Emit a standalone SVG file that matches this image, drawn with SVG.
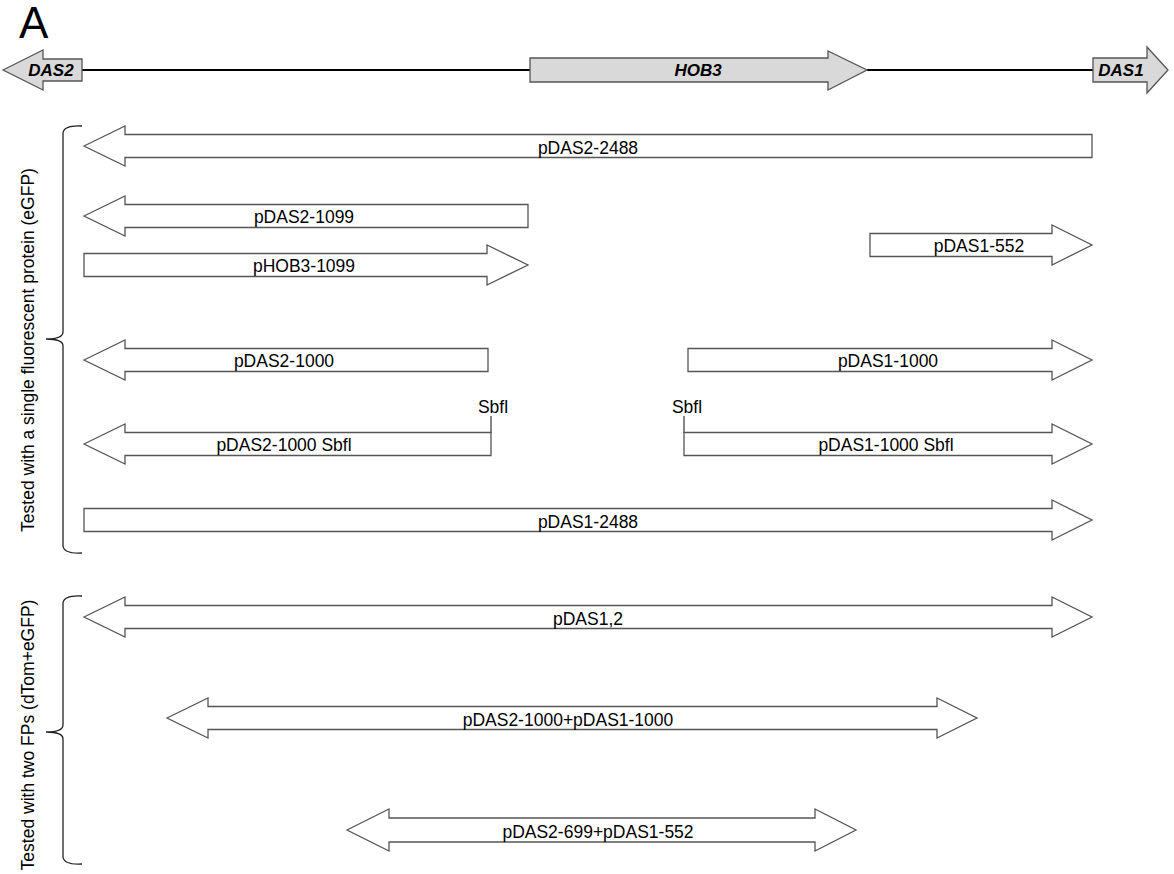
<svg xmlns="http://www.w3.org/2000/svg" width="1174" height="874" viewBox="0 0 1174 874">
<style>
.bg{fill:#fff}
.gene{fill:#d9d9d9;stroke:#555;stroke-width:1.3}
.arr{fill:#fff;stroke:#555;stroke-width:1.3;stroke-linejoin:miter}
.line{stroke:#000;stroke-width:2;fill:none}
.br{fill:none;stroke:#222;stroke-width:1.3}
.gl{font-family:"Liberation Sans",Arial,sans-serif;font-size:17px;font-weight:bold;font-style:italic;fill:#000;text-anchor:middle}
.lbl{font-family:"Liberation Sans",Arial,sans-serif;font-size:17.5px;fill:#000;text-anchor:middle}
.side{font-family:"Liberation Sans",Arial,sans-serif;font-size:17.5px;fill:#000;text-anchor:middle}
.tick{stroke:#444;stroke-width:1.3;fill:none}
</style>
<rect class="bg" x="0" y="0" width="1174" height="874"/>
<text x="19" y="38" font-family="'Liberation Sans',Arial,sans-serif" font-size="44">A</text>

<g id="connectors">
<line class="line" x1="82" y1="70" x2="530" y2="70"/>
<line class="line" x1="867" y1="70" x2="1093" y2="70"/>
<line class="tick" x1="491" y1="416" x2="491" y2="433"/>
<line class="tick" x1="684" y1="416" x2="684" y2="433"/>
</g>

<g id="gene-DAS2">
<polygon class="gene" points="3,70 43,50 43,59 82,59 82,81 43,81 43,90"/>
<text class="gl" x="51" y="76">DAS2</text>
</g>
<g id="gene-HOB3">
<polygon class="gene" points="530,58 828,58 828,51 867,70 828,90 828,82 530,82"/>
<text class="gl" x="698" y="76">HOB3</text>
</g>
<g id="gene-DAS1">
<polygon class="gene" points="1093,58 1147,58 1147,47 1168,70 1147,93 1147,82 1093,82"/>
<text class="gl" x="1121" y="76">DAS1</text>
</g>

<g id="bracket-single">
<path class="br" d="M82,126 Q64,125 63,133 L63,332 Q63,339 46,339 Q63,339 63,346 L63,546 Q64,554 82,553"/>
<text class="side" transform="translate(34,350) rotate(-90)">Tested with a single fluorescent protein (eGFP)</text>
</g>
<g id="bracket-two">
<path class="br" d="M82,596 Q64,595 63,603 L63,725 Q63,732 46,732 Q63,732 63,739 L63,857 Q64,865 82,864"/>
<text class="side" transform="translate(34,735) rotate(-90)">Tested with two FPs (dTom+eGFP)</text>
</g>

<g id="pDAS2-2488">
<polygon class="arr" points="84,146 125,126 125,134.5 1092,134.5 1092,157.5 125,157.5 125,166"/>
<text class="lbl" x="588" y="154">pDAS2-2488</text>
</g>
<g id="pDAS2-1099">
<polygon class="arr" points="84,216 125,196 125,204.5 528,204.5 528,227.5 125,227.5 125,236"/>
<text class="lbl" x="304" y="223">pDAS2-1099</text>
</g>
<g id="pHOB3-1099">
<polygon class="arr" points="84,253.5 487,253.5 487,245 528,265 487,285 487,276.5 84,276.5"/>
<text class="lbl" x="304" y="272">pHOB3-1099</text>
</g>
<g id="pDAS1-552">
<polygon class="arr" points="870,233.5 1052,233.5 1052,225 1092,245 1052,265 1052,256.5 870,256.5"/>
<text class="lbl" x="979" y="252">pDAS1-552</text>
</g>
<g id="pDAS2-1000">
<polygon class="arr" points="84,360 125,340 125,348.5 488,348.5 488,371.5 125,371.5 125,380"/>
<text class="lbl" x="284" y="367">pDAS2-1000</text>
</g>
<g id="pDAS1-1000">
<polygon class="arr" points="688,348.5 1052,348.5 1052,340 1092,360 1052,380 1052,371.5 688,371.5"/>
<text class="lbl" x="888" y="367">pDAS1-1000</text>
</g>
<g id="pDAS2-1000-SbfI">
<polygon class="arr" points="84,444 125,424 125,432.5 491,432.5 491,455.5 125,455.5 125,464"/>
<text class="lbl" x="284" y="451">pDAS2-1000 Sbfl</text>
<text class="lbl" x="493" y="413">Sbfl</text>
</g>
<g id="pDAS1-1000-SbfI">
<polygon class="arr" points="684,432.5 1052,432.5 1052,424 1092,444 1052,464 1052,455.5 684,455.5"/>
<text class="lbl" x="886" y="451">pDAS1-1000 Sbfl</text>
<text class="lbl" x="687" y="413">Sbfl</text>
</g>
<g id="pDAS1-2488">
<polygon class="arr" points="84,508.5 1052,508.5 1052,500 1092,520 1052,540 1052,531.5 84,531.5"/>
<text class="lbl" x="588" y="528">pDAS1-2488</text>
</g>
<g id="pDAS1-2">
<polygon class="arr" points="84,617 125,597 125,605.5 1052,605.5 1052,597 1092,617 1052,637 1052,628.5 125,628.5 125,637"/>
<text class="lbl" x="588" y="625">pDAS1,2</text>
</g>
<g id="pDAS2-1000-pDAS1-1000">
<polygon class="arr" points="167,718 208,698 208,706.5 937,706.5 937,698 977,718 937,738 937,729.5 208,729.5 208,738"/>
<text class="lbl" x="568" y="726">pDAS2-1000+pDAS1-1000</text>
</g>
<g id="pDAS2-699-pDAS1-552">
<polygon class="arr" points="347,830 389,809 389,818 815,818 815,809 856,830 815,851 815,842 389,842 389,851"/>
<text class="lbl" x="598" y="838">pDAS2-699+pDAS1-552</text>
</g>
</svg>
